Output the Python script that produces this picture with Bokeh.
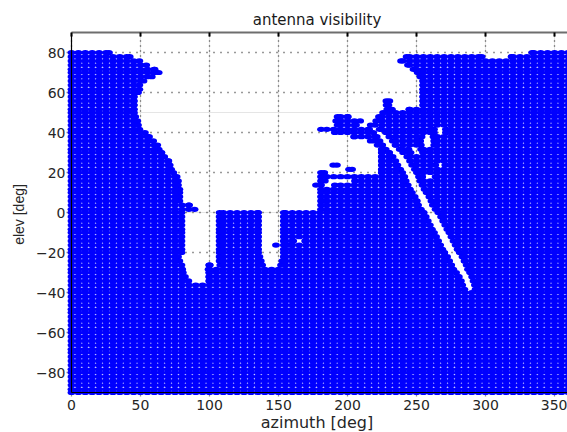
from bokeh.plotting import figure
from bokeh.models import LinearAxis, FixedTicker, ColumnDataSource, Range1d, Grid
from bokeh.embed import file_html
from bokeh.resources import INLINE

TITLE = "antenna visibility"
X_LABEL = "azimuth [deg]"
Y_LABEL = "elev [deg]"
X_TICKS = [0, 50, 100, 150, 200, 250, 300, 350]
Y_TICKS = [-80, -60, -40, -20, 0, 20, 40, 60, 80]
AZ_LIMITS = [0, 360]
EL_LIMITS = [-90, 90]

ROW_NOMINAL = list(range(80, -92, -2))
ROW_ELEV = [
    80, 77.9, 75.8, 73.7, 71.6, 70, 67.9, 65.8, 63.7, 61.6,
    60, 57.9, 55.8, 53.7, 51.6, 49.9, 47.9, 45.8, 43.7, 41.6,
    40, 37.9, 35.8, 33.7, 31.6, 30, 27.9, 25.8, 23.7, 21.6,
    20, 17.9, 15.8, 13.7, 11.6, 10, 7.9, 5.8, 3.7, 1.6,
    0, -2.1, -4.2, -6.3, -8.4, -10, -12.1, -14.2, -16.3, -18.4,
    -20, -22.1, -24.2, -26.3, -28.4, -30, -32.1, -34.2, -36.3, -38.4,
    -40, -42.1, -44.2, -46.3, -48.4, -50, -52.1, -54.2, -56.3, -58.4,
    -60, -62.1, -64.2, -66.3, -68.4, -70, -72.1, -74.2, -76.3, -78.4,
    -80, -82.1, -84.2, -86.3, -88.4, -90,
]
AZIMUTH_COLUMNS = list(range(0, 365, 5))

# azimuth spans with no visibility, per elevation row
HIDDEN = {
    80: [(30, 331)],
    78: [(45, 240), (300, 316)],
    76: [(52, 236)],
    74: [(57, 241)],
    72: [(63, 245)],
    70: [(66, 248)],
    68: [(61, 250)],
    66: [(55, 252)],
    64: [(52, 252)],
    62: [(52, 252)],
    60: [(51, 252)],
    58: [(48, 252)],
    56: [(48, 227.5), (231, 252)],
    54: [(48, 225.5), (232.5, 252)],
    52: [(48, 226), (235, 242)],
    50: [(48, 223)],
    48: [(49, 190), (203, 220)],
    46: [(50.5, 189), (212, 218)],
    44: [(51, 190), (209, 214)],
    42: [(52, 178), (218.5, 220.5), (265.5, 268.5)],
    40: [(56, 188), (221.5, 225), (265.5, 268.5)],
    38: [(59, 202), (224, 227.5), (256.5, 259.5)],
    36: [(62, 214), (226, 230), (255.5, 260)],
    34: [(65, 219), (228, 232), (256, 260)],
    32: [(66, 222), (230.5, 235), (247, 250.5)],
    30: [(68, 222), (233, 237.5), (248.5, 252)],
    28: [(70, 222), (235.5, 240.5)],
    26: [(73, 222), (237.5, 242.5)],
    24: [(74, 189.5), (192.5, 222), (239, 244), (266.5, 268)],
    22: [(75, 200.5), (204, 222), (241, 246)],
    20: [(76.6, 178), (186, 222), (242.5, 247.5)],
    18: [(79, 178), (244, 249), (257, 261)],
    16: [(80, 178), (186.4, 202.6), (245, 250)],
    14: [(80, 178), (180, 188), (246.5, 251.5)],
    12: [(81, 178), (248, 253)],
    10: [(81, 178), (249.5, 254.5)],
    8: [(81, 178), (251.5, 256.5)],
    6: [(81, 178), (253, 258)],
    4: [(88, 178), (254, 259)],
    2: [(92, 178), (256, 261)],
    0: [(82.5, 104.5), (138, 151), (258, 263)],
    -2: [(82.5, 104.5), (138, 151), (259.5, 265)],
    -4: [(82.5, 104.5), (138, 151), (261, 266.5)],
    -6: [(82.5, 104.5), (138, 151), (262.5, 268)],
    -8: [(82.5, 104.5), (138, 151), (264, 269.5)],
    -10: [(82.5, 104.5), (138, 151), (265.5, 271)],
    -12: [(82.5, 104.5), (138, 151), (267, 272.5)],
    -14: [(82.5, 104.5), (138, 151), (163.5, 166.5), (268.5, 274)],
    -16: [(82.5, 104.5), (138, 151), (151, 154.5), (270, 275.5)],
    -18: [(82.5, 104.5), (138, 151), (271.5, 277)],
    -20: [(82.5, 104.5), (138, 151), (273, 278.5)],
    -22: [(80, 104.5), (139, 151), (275, 280.5)],
    -24: [(81, 104.5), (140, 150), (276.5, 282)],
    -26: [(82.5, 97), (103, 105), (141, 149), (278, 283.5)],
    -28: [(83, 96.5), (279.5, 284.5)],
    -30: [(83.5, 97), (281.5, 286)],
    -32: [(85, 97), (283.5, 287.5)],
    -34: [(87.5, 97), (285, 288.5)],
    -36: [(286, 289.5)],
    -38: [(287.5, 290)],
}

PX_PER_DEG_X = 1.38
PX_PER_DEG_Y = 2.0
DOT_W = 7.8
DOT_H = 5.2
RX = DOT_W / 2 / PX_PER_DEG_X

xs, ys = [], []
for nominal, elev in zip(ROW_NOMINAL, ROW_ELEV):
    spans = HIDDEN.get(nominal, [])
    for az in AZIMUTH_COLUMNS:
        if not any(a - RX < az < b + RX for a, b in spans):
            xs.append(az)
            ys.append(elev)
    for a, b in spans:
        xs.extend([a - RX, b + RX])
        ys.extend([elev, elev])

FRAME_W = 501   # x 66 .. 567
FRAME_H = 364   # y 32 .. 396
x_start = -5 / PX_PER_DEG_X
x_end = x_start + FRAME_W / PX_PER_DEG_X
y_end = EL_LIMITS[1]
y_start = y_end - FRAME_H / PX_PER_DEG_Y

p = figure(width=567, height=432, frame_width=FRAME_W, frame_height=FRAME_H,
           output_backend="svg", toolbar_location=None,
           x_range=Range1d(x_start, x_end), y_range=Range1d(y_start, y_end),
           x_axis_location=None, y_axis_location=None,
           min_border_left=66, min_border_right=0, min_border_top=32, min_border_bottom=36,
           background_fill_color="white", border_fill_color="white")
p.outline_line_color = None

FONT = "DejaVu Sans"
TXT = "#262626"
p.title.text = TITLE
p.title.text_font = FONT
p.title.text_font_size = "15px"
p.title.text_font_style = "normal"
p.title.text_color = "#1a1a1a"
p.title.align = "center"
p.title.standoff = 7

src = ColumnDataSource(dict(x=xs, y=ys))
p.ellipse("x", "y", width=DOT_W, height=DOT_H, width_units="screen", height_units="screen",
          source=src, fill_color="#0000ff", line_color=None)


def style(ax, ticks):
    ax.ticker = FixedTicker(ticks=ticks)
    ax.major_tick_in = 0
    ax.major_tick_out = 0
    ax.minor_tick_in = 0
    ax.minor_tick_out = 0
    ax.axis_line_color = None
    ax.major_tick_line_color = None
    ax.major_label_text_font = FONT
    ax.major_label_text_font_size = "14px"
    ax.major_label_text_color = TXT
    ax.axis_label_text_font = FONT
    ax.axis_label_text_font_size = "16px"
    ax.axis_label_text_font_style = "normal"
    ax.axis_label_text_color = TXT


bottom = LinearAxis(axis_label=X_LABEL)
style(bottom, X_TICKS)
bottom.major_label_standoff = 3
bottom.axis_label_standoff = 0
p.add_layout(bottom, "below")

left = LinearAxis(axis_label=Y_LABEL)
style(left, Y_TICKS)
left.major_label_standoff = 1
left.axis_label_standoff = 6
left.axis_label_text_font = "Liberation Sans"
left.axis_label_text_font_size = "14px"
p.add_layout(left, "left")

top = LinearAxis(bounds=(AZ_LIMITS[0], AZ_LIMITS[1]))
style(top, X_TICKS)
top.major_label_text_alpha = 0
top.major_label_text_font_size = "1px"
top.major_label_standoff = 0
top.major_tick_in = 4
top.axis_line_color = "#6e6e6e"
top.axis_line_width = 2
top.major_tick_line_color = "black"
top.major_tick_line_width = 2
p.add_layout(top, "above")

p.add_layout(Grid(dimension=0, ticker=FixedTicker(ticks=X_TICKS), grid_line_color="#333333",
                  grid_line_dash="1 4", grid_line_width=1.3))
p.add_layout(Grid(dimension=1, ticker=FixedTicker(ticks=Y_TICKS), grid_line_color="#333333",
                  grid_line_dash="1 6", grid_line_width=1.3))

# left and bottom spines drawn over the dots
spines = p.segment(x0=[AZ_LIMITS[0], AZ_LIMITS[0]], y0=[EL_LIMITS[0], EL_LIMITS[0]],
                   x1=[AZ_LIMITS[0], AZ_LIMITS[1]], y1=[EL_LIMITS[1], EL_LIMITS[0]],
                   line_color="black", line_width=1.2)

open("out.html", "w").write(file_html(p, INLINE))
